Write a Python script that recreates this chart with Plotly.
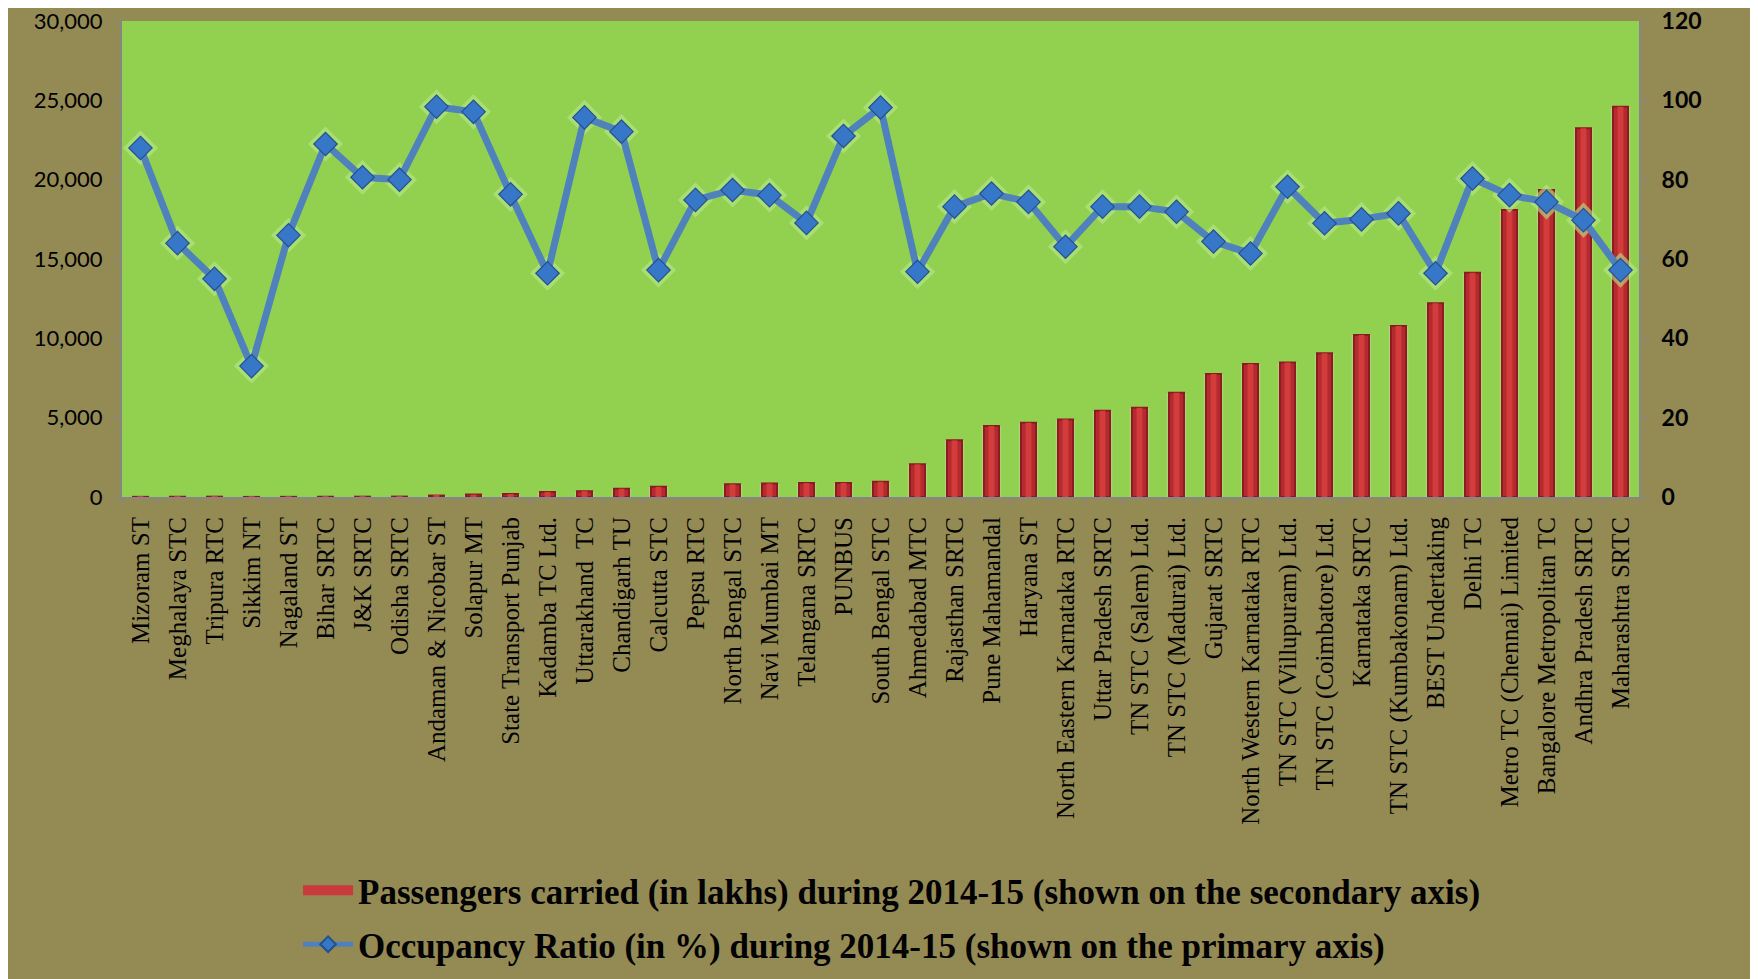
import plotly.graph_objects as go

categories = [
    "Mizoram ST", "Meghalaya STC", "Tripura RTC", "Sikkim NT", "Nagaland ST",
    "Bihar SRTC", "J&K SRTC", "Odisha SRTC", "Andaman & Nicobar ST", "Solapur MT",
    "State Transport Punjab", "Kadamba TC Ltd.", "Uttarakhand  TC", "Chandigarh TU",
    "Calcutta STC", "Pepsu RTC", "North Bengal STC", "Navi Mumbai MT", "Telangana SRTC",
    "PUNBUS", "South Bengal STC", "Ahmedabad MTC", "Rajasthan SRTC", "Pune Mahamandal",
    "Haryana ST", "North Eastern Karnataka RTC", "Uttar Pradesh SRTC", "TN STC (Salem) Ltd.",
    "TN STC (Madurai) Ltd.", "Gujarat SRTC", "North Western Karnataka RTC",
    "TN STC (Villupuram) Ltd.", "TN STC (Coimbatore) Ltd.", "Karnataka SRTC",
    "TN STC (Kumbakonam) Ltd.", "BEST Undertaking", "Delhi TC", "Metro TC (Chennai) Limited",
    "Bangalore Metropolitan TC", "Andhra Pradesh SRTC", "Maharashtra SRTC",
]

passengers_lakhs = [
    10, 15, 20, 5, 10, 15, 20, 25, 90, 150,
    190, 320, 370, 520, 640, None, 800, 850, 880, 890,
    960, 2060, 3570, 4470, 4680, 4890, 5440, 5620, 6570, 7750,
    8380, 8470, 9060, 10210, 10780, 12210, 14140, 18090, 19350, 23240,
    24600,
]

occupancy_pct = [
    88, 64, 55, 33, 66, 89, 80.6, 80, 98.4, 97.1,
    76.3, 56.4, 95.7, 92.1, 57.2, 74.9, 77.4, 76.1, 69.1, 91,
    98.2, 56.8, 73.2, 76.5, 74.4, 63.1, 73.2, 73.2, 71.9, 64.4,
    61.4, 78.2, 69, 70, 71.5, 56.4, 80.3, 76.1, 74.4, 69.8,
    57.2,
]

left_ticks = [0, 5000, 10000, 15000, 20000, 25000, 30000]
right_ticks = [0, 20, 40, 60, 80, 100, 120]

bar_name = "Passengers carried (in lakhs) during 2014-15 (shown on the secondary axis)"
line_name = "Occupancy Ratio (in %) during 2014-15 (shown on the primary axis)"

fig = go.Figure()

# pale glow around the bars
fig.add_trace(go.Bar(
    x=categories, y=passengers_lakhs, yaxis="y", width=0.52,
    marker=dict(color="rgba(205,240,170,0.55)", line=dict(width=0)),
    showlegend=False, hoverinfo="skip",
))
# main bar body (dark edges)
fig.add_trace(go.Bar(
    x=categories, y=passengers_lakhs, name=bar_name, yaxis="y", width=0.41,
    marker=dict(color="#B52A2E", line=dict(color="#8A1B20", width=2)),
    showlegend=False,
))
# lighter centre stripe for the cylinder look
fig.add_trace(go.Bar(
    x=categories, y=passengers_lakhs, yaxis="y", width=0.16,
    marker=dict(color="#D23C3B", line=dict(width=0)),
    showlegend=False, hoverinfo="skip",
))
# legend entry for the bars: a wide red block
fig.add_trace(go.Scatter(
    x=[None], y=[None], yaxis="y", mode="lines", name=bar_name,
    line=dict(color="#C83A3C", width=20), legend="legend",
))

# soft halo behind the diamonds
fig.add_trace(go.Scatter(
    x=categories, y=occupancy_pct, yaxis="y2", mode="markers",
    marker=dict(symbol="diamond", size=27, color="rgba(185,232,140,0.6)"),
    showlegend=False, hoverinfo="skip",
))

fig.add_trace(go.Scatter(
    x=categories, y=occupancy_pct, name=line_name, yaxis="y2",
    mode="lines+markers", legend="legend2",
    line=dict(color="#4F81BD", width=7),
    marker=dict(symbol="diamond", size=18, color="#3777C8",
                line=dict(color="#24508E", width=1.2)),
))

legend_font = dict(family="Liberation Serif, Times New Roman, serif", size=35,
                   color="#000000", weight="bold")

fig.update_layout(
    width=1758, height=979,
    paper_bgcolor="#948A54", plot_bgcolor="#92D050",
    margin=dict(l=114, r=127, t=13, b=490, autoexpand=False),
    barmode="overlay",
    xaxis=dict(
        type="category", tickangle=-90, automargin=False,
        tickfont=dict(family="Liberation Serif, Times New Roman, serif", size=25, color="#000000"),
        showline=True, linecolor="#868686", linewidth=2,
        ticks="outside", tickson="boundaries", ticklen=7, tickcolor="#868686",
        ticklabelstandoff=8,
        showgrid=False, range=[-0.5, len(categories) - 0.5],
    ),
    yaxis=dict(
        range=[0, 30000], tickvals=left_ticks, tickformat=",", automargin=False,
        tickfont=dict(family="Lato, Carlito, sans-serif", size=22, color="#000000"),
        showline=True, linecolor="#868686", linewidth=2,
        ticks="outside", ticklen=7, tickcolor="#868686", ticklabelstandoff=6,
        ticklabeloverflow="allow",
        showgrid=False, zeroline=False,
    ),
    yaxis2=dict(
        range=[0, 120], tickvals=right_ticks, overlaying="y", side="right", automargin=False,
        tickfont=dict(family="Lato, Carlito, sans-serif", size=23, color="#000000", weight="bold"),
        showline=True, linecolor="#868686", linewidth=2,
        ticks="outside", ticklen=7, tickcolor="#868686", ticklabelstandoff=9,
        ticklabeloverflow="allow",
        showgrid=False, zeroline=False,
    ),
    legend=dict(
        orientation="v", xref="container", x=0.165, xanchor="left",
        yref="container", y=0.1287, yanchor="top",
        font=legend_font, bgcolor="rgba(0,0,0,0)", itemsizing="trace", itemwidth=50,
    ),
    legend2=dict(
        orientation="v", xref="container", x=0.165, xanchor="left",
        yref="container", y=0.0736, yanchor="top",
        font=legend_font, bgcolor="rgba(0,0,0,0)", itemsizing="constant", itemwidth=50,
    ),
    showlegend=True,
)

fig.write_html("out.html")
